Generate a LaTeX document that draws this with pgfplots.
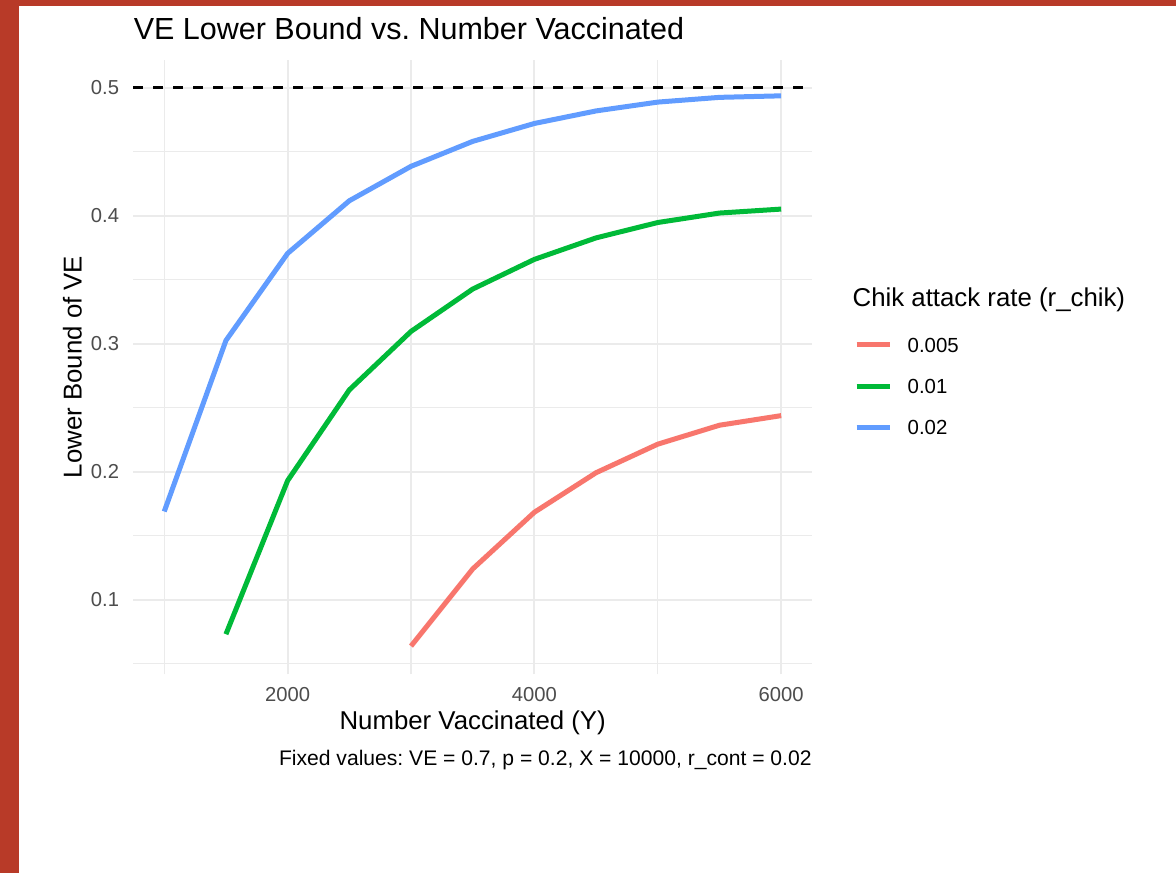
\documentclass[border=0pt]{standalone}
\usepackage{fontspec}
\setmainfont{Liberation Sans}
\usepackage{pgfplots}
\pgfplotsset{compat=1.18}
\usepackage{pgfplotstable}
\frenchspacing

\definecolor{frame}{HTML}{B83A28}
\definecolor{gridgray}{HTML}{EBEBEB}
\definecolor{ticktext}{HTML}{4D4D4D}
\definecolor{ggred}{HTML}{F8766D}
\definecolor{gggreen}{HTML}{00BA38}
\definecolor{ggblue}{HTML}{619CFF}

% lower bound of VE, by number vaccinated, one table per attack rate
\pgfplotstableread{
Y    lb
3000 0.0638
3500 0.1241
4000 0.1684
4500 0.1993
5000 0.2216
5500 0.2364
6000 0.2439
}\rlow
\pgfplotstableread{
Y    lb
1500 0.0731
2000 0.1931
2500 0.2640
3000 0.3097
3500 0.3428
4000 0.3660
4500 0.3828
5000 0.3948
5500 0.4022
6000 0.4053
}\rmid
\pgfplotstableread{
Y    lb
1000 0.1690
1500 0.3026
2000 0.3707
2500 0.4118
3000 0.4387
3500 0.4582
4000 0.4722
4500 0.4820
5000 0.4889
5500 0.4926
6000 0.4938
}\rhigh

\begin{document}
\begin{tikzpicture}
% page background with the red frame on the left and top
\fill[frame] (0pt,0pt) rectangle (588pt,436.5pt);
\fill[white] (9.5pt,0pt) rectangle (588pt,433.65pt);

\begin{axis}[
    at={(66.7pt,99.5pt)}, anchor=south west,
    scale only axis,
    width=339.3pt, height=307pt,
    xmin=750, xmax=6250,
    ymin=0.042, ymax=0.5218,
    xtick={2000,4000,6000},
    minor xtick={1000,3000,5000},
    ytick={0.1,0.2,0.3,0.4,0.5},
    minor ytick={0.05,0.15,0.25,0.35,0.45},
    scaled ticks=false,
    /pgf/number format/1000 sep={},
    /pgf/number format/assume math mode=true,
    grid=both,
    major grid style={draw=gridgray, line width=1pt},
    minor grid style={draw=gridgray, line width=0.6pt},
    axis line style={draw=none},
    tick style={draw=none},
    major tick length=0pt, minor tick length=0pt,
    ticklabel style={font=\fontsize{10.1}{12}\selectfont, text=ticktext, inner sep=0pt},
    xticklabel style={anchor=north, yshift=-6.6pt},
    yticklabel style={anchor=east, xshift=-7pt},
    xlabel={Number Vaccinated (Y)},
    ylabel={Lower Bound of VE},
    xlabel style={at={(axis description cs:0.5,-0.0904)}, anchor=base, inner sep=0pt,
        font=\fontsize{12.9}{15}\selectfont},
    ylabel style={at={(axis description cs:-0.0762,0.5)}, anchor=base, rotate=0, inner sep=0pt,
        font=\fontsize{12.9}{15}\selectfont},
    title={VE Lower Bound vs. Number Vaccinated},
    title style={at={(axis description cs:0,1.0137)}, anchor=base west, inner sep=0pt,
        font=\fontsize{15.25}{18}\selectfont},
    clip=false,
    legend image code/.code={\draw[#1] (0pt,0pt) -- (16.7pt,0pt);},
    legend cell align=left,
    legend style={at={(1.0615,0.469)}, anchor=west, draw=none, fill=none,
        inner sep=0pt, row sep=13.35pt, column sep=7.6pt,
        nodes={inner sep=0pt, text height=7.3pt, text depth=0pt,
            font=\fontsize{10.2}{12}\selectfont}},
    every axis plot/.append style={line width=2.5pt, line cap=butt, line join=round},
]

\addplot[forget plot, black, line width=1.5pt, dash pattern=on 5pt off 5pt]
    coordinates {(750,0.5) (6250,0.5)};

\addplot[ggred] table[x=Y, y=lb] {\rlow};
\addlegendentry{0.005}
\addplot[gggreen] table[x=Y, y=lb] {\rmid};
\addlegendentry{0.01}
\addplot[ggblue] table[x=Y, y=lb] {\rhigh};
\addlegendentry{0.02}

\node[anchor=base west, inner sep=0pt, font=\fontsize{12.9}{15}\selectfont]
    at (rel axis cs:1.0594,0.5993) {Chik attack rate (r\_chik)};
\node[anchor=base east, inner sep=0pt, font=\fontsize{10.55}{12}\selectfont]
    at (rel axis cs:1,-0.1498) {Fixed values: VE = 0.7, p = 0.2, X = 10000, r\_cont = 0.02};
\end{axis}
\end{tikzpicture}
\end{document}
